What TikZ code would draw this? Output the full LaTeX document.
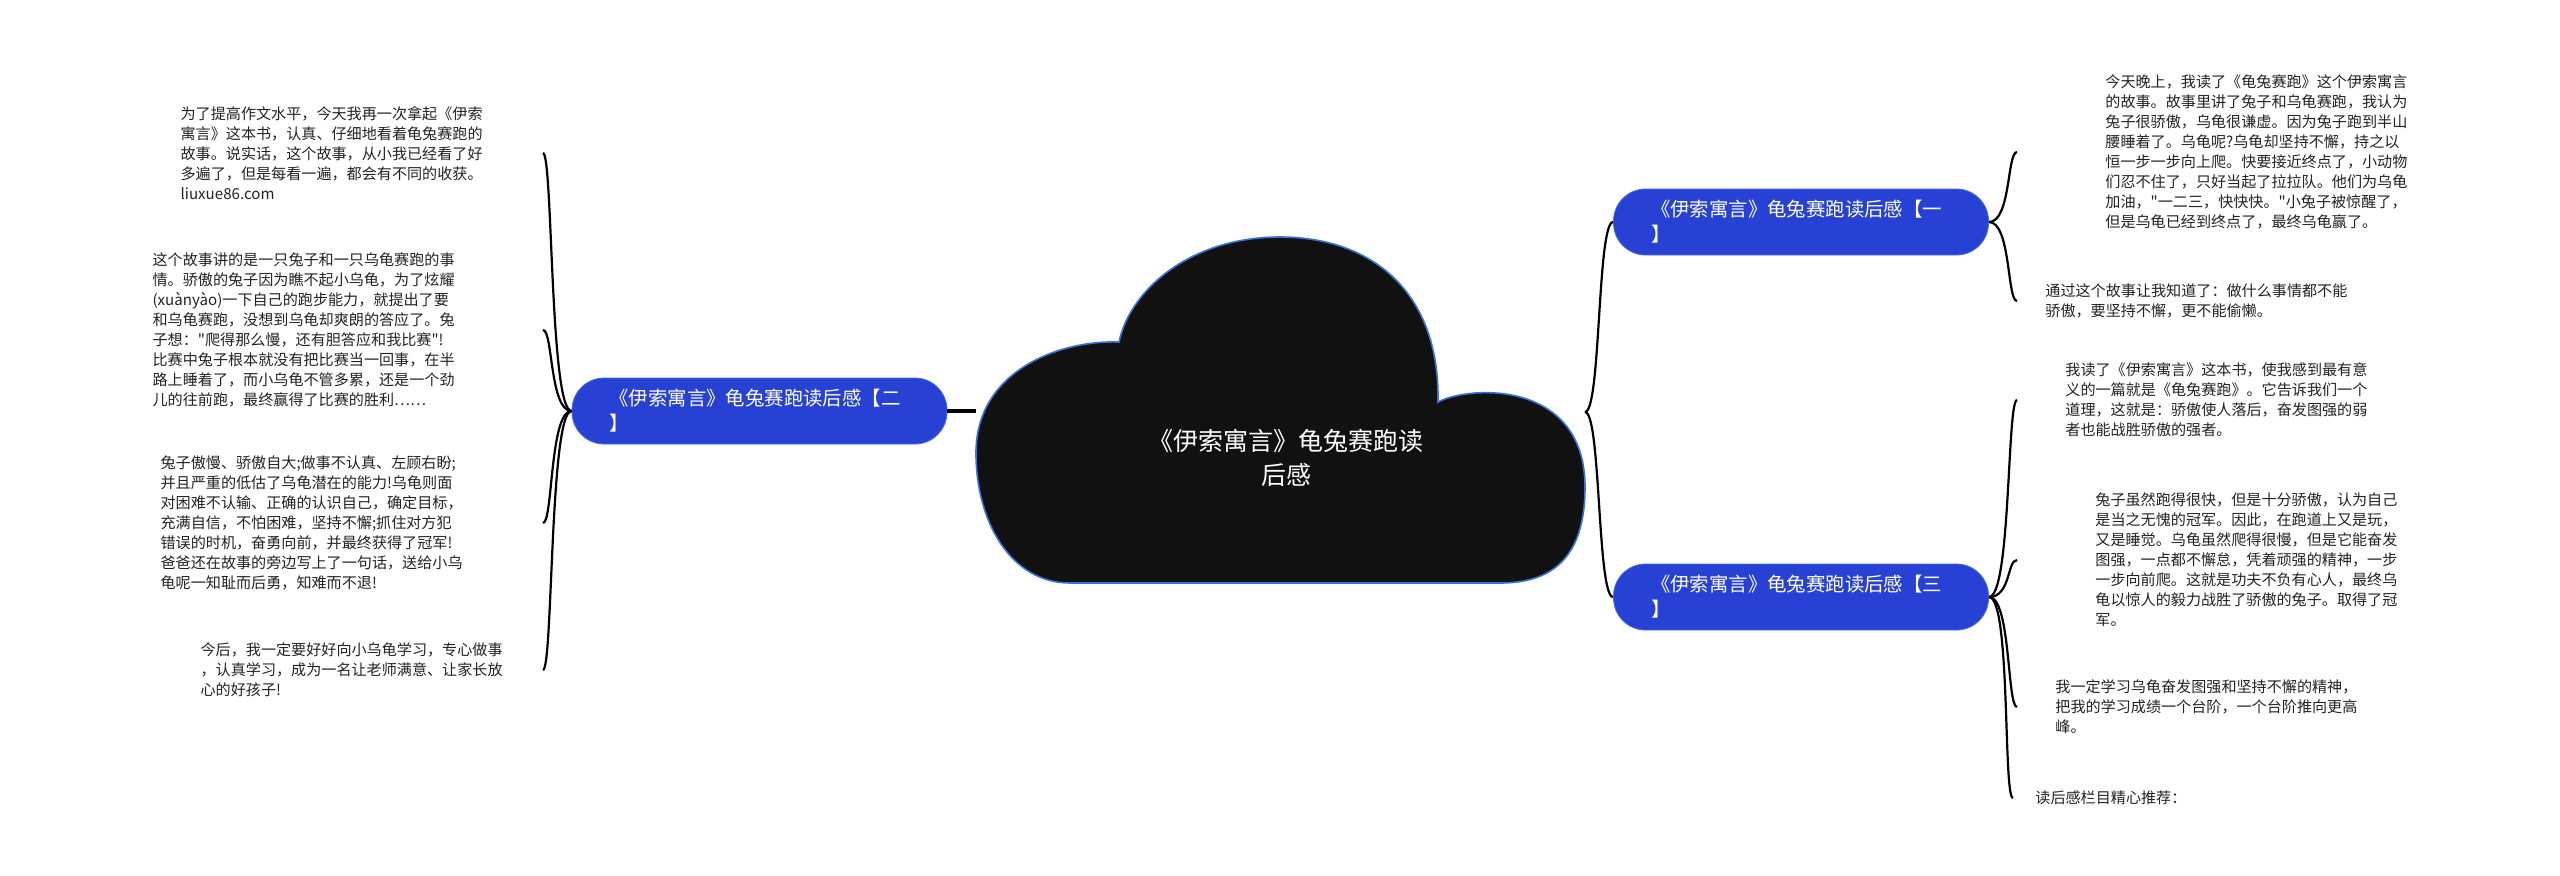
\documentclass[tikz,border=0pt]{standalone}
\usepackage{fontspec}
\setmainfont{Noto Sans CJK SC}[Ligatures=TeXOff]
\usepackage{xcolor}
\usepackage{tikz}
\usetikzlibrary{positioning}

\definecolor{mapblue}{HTML}{2641D4}
\definecolor{mapedge}{HTML}{4A6CE6}
\definecolor{cloudink}{HTML}{111111}
\definecolor{cloudedge}{HTML}{3A72D9}
\definecolor{leafink}{HTML}{222222}

\tikzset{
    topic/.style={draw=mapedge, fill=mapblue, text=white, rounded corners=16pt,
        minimum width=187.5pt, minimum height=33pt, text width=150pt,
        inner xsep=18.75pt, align=left, font=\fontsize{9.7pt}{12.5pt}\selectfont},
    leaf/.style={text=leafink, align=left, inner sep=0pt,
        font=\fontsize{7.55pt}{10pt}\selectfont},
    link/.style={line width=1.1pt},
}

\begin{document}
\begin{tikzpicture}[x=0.5pt, y=-0.5pt]
    \useasboundingbox (0,0) rectangle (2560,875);

    % 1. Đám mây ở giữa
    \draw[cloudedge, fill=cloudink, line width=0.8pt]
        (1070,583) -- (1500,583)
        .. controls (1550,583) and (1585,560) .. (1585,487)
        .. controls (1585,380) and (1470,385) .. (1438,402)
        .. controls (1440,290) and (1370,237) .. (1280,237)
        .. controls (1190,237) and (1130,290) .. (1119,342)
        .. controls (1060,340) and (978,370) .. (976,450)
        .. controls (975,520) and (1010,583) .. (1070,583) -- cycle;
    \node[text=white, align=center, font=\fontsize{12.5pt}{17pt}\selectfont]
        (root) at (1286,458) {《伊索寓言》龟兔赛跑读\\后感};
    \coordinate (rootL) at (976,411);
    \coordinate (rootR) at (1585,412);

    % 2. Các chủ đề
    \node[topic] (t1) at (1801,222) {《伊索寓言》龟兔赛跑读后感【一\\】};
    \node[topic] (t2) at (759.5,411) {《伊索寓言》龟兔赛跑读后感【二\\】};
    \node[topic] (t3) at (1801,597) {《伊索寓言》龟兔赛跑读后感【三\\】};

    % 3. Các đoạn văn
    \node[leaf, anchor=east] (l1) at (483,153) {为了提高作文水平，今天我再一次拿起《伊索\\寓言》这本书，认真、仔细地看着龟兔赛跑的\\故事。说实话，这个故事，从小我已经看了好\\多遍了，但是每看一遍，都会有不同的收获。\\liuxue86.com};
    \node[leaf, anchor=east] (l2) at (455,330) {这个故事讲的是一只兔子和一只乌龟赛跑的事\\情。骄傲的兔子因为瞧不起小乌龟，为了炫耀\\(xuànyào)一下自己的跑步能力，就提出了要\\和乌龟赛跑，没想到乌龟却爽朗的答应了。兔\\子想："爬得那么慢，还有胆答应和我比赛"!\\比赛中兔子根本就没有把比赛当一回事，在半\\路上睡着了，而小乌龟不管多累，还是一个劲\\儿的往前跑，最终赢得了比赛的胜利……};
    \node[leaf, anchor=east] (l3) at (463,523) {兔子傲慢、骄傲自大;做事不认真、左顾右盼;\\并且严重的低估了乌龟潜在的能力!乌龟则面\\对困难不认输、正确的认识自己，确定目标，\\充满自信，不怕困难，坚持不懈;抓住对方犯\\错误的时机，奋勇向前，并最终获得了冠军!\\爸爸还在故事的旁边写上了一句话，送给小乌\\龟呢一知耻而后勇，知难而不退!};
    \node[leaf, anchor=east] (l4) at (503,670) {今后，我一定要好好向小乌龟学习，专心做事\\，认真学习，成为一名让老师满意、让家长放\\心的好孩子!};

    \node[leaf, anchor=west] (ra) at (2105,152) {今天晚上，我读了《龟兔赛跑》这个伊索寓言\\的故事。故事里讲了兔子和乌龟赛跑，我认为\\兔子很骄傲，乌龟很谦虚。因为兔子跑到半山\\腰睡着了。乌龟呢?乌龟却坚持不懈，持之以\\恒一步一步向上爬。快要接近终点了，小动物\\们忍不住了，只好当起了拉拉队。他们为乌龟\\加油，"一二三，快快快。"小兔子被惊醒了，\\但是乌龟已经到终点了，最终乌龟赢了。};
    \node[leaf, anchor=west] (rb) at (2045,301) {通过这个故事让我知道了：做什么事情都不能\\骄傲，要坚持不懈，更不能偷懒。};
    \node[leaf, anchor=west] (rc) at (2065,400) {我读了《伊索寓言》这本书，使我感到最有意\\义的一篇就是《龟兔赛跑》。它告诉我们一个\\道理，这就是：骄傲使人落后，奋发图强的弱\\者也能战胜骄傲的强者。};
    \node[leaf, anchor=west] (rd) at (2095,560) {兔子虽然跑得很快，但是十分骄傲，认为自己\\是当之无愧的冠军。因此，在跑道上又是玩，\\又是睡觉。乌龟虽然爬得很慢，但是它能奋发\\图强，一点都不懈怠，凭着顽强的精神，一步\\一步向前爬。这就是功夫不负有心人，最终乌\\龟以惊人的毅力战胜了骄傲的兔子。取得了冠\\军。};
    \node[leaf, anchor=west] (re) at (2055,707) {我一定学习乌龟奋发图强和坚持不懈的精神，\\把我的学习成绩一个台阶，一个台阶推向更高\\峰。};
    \node[leaf, anchor=west] (rf) at (2035,798) {读后感栏目精心推荐：};

    % 4. Các đường nối
    \draw[line width=2pt] (t2.east) -- (rootL);
    \foreach \tp in {t1,t3}
        \draw[link] (rootR) .. controls +(16,0) and +(-16,0) .. (\tp.west);
    \foreach \leaf/\sh in {l1/30pt, l2/44pt, l3/40pt, l4/20pt}
        \draw[link] (t2.west) .. controls +(-22,0) and +(10,0) .. ([xshift=\sh]\leaf.east);
    \foreach \leaf/\sh in {ra/-44pt, rb/-14pt}
        \draw[link] (t1.east) .. controls +(22,0) and +(-10,0) .. ([xshift=\sh]\leaf.west);
    \foreach \leaf/\sh in {rc/-24pt, rd/-39pt, re/-19pt, rf/-11pt}
        \draw[link] (t3.east) .. controls +(22,0) and +(-10,0) .. ([xshift=\sh]\leaf.west);
\end{tikzpicture}
\end{document}
